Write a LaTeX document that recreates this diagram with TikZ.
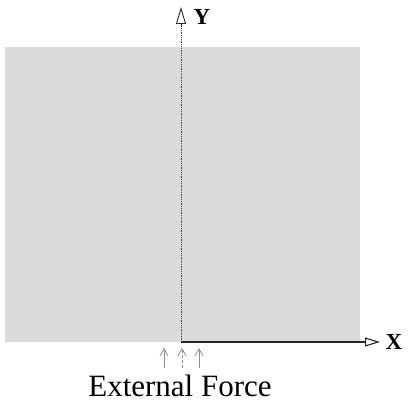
\documentclass[tikz,border=0pt]{standalone}
\usepackage{fontspec}
\setmainfont{Liberation Serif}
\usetikzlibrary{arrows.meta}
\begin{document}
\begin{tikzpicture}[x=1pt,y=-1pt,
  shade area/.style={fill=black!14,draw=none},
  axisline/.style={line width=1.1pt,black!85},
  yaxisline/.style={line width=0.8pt,black!75,densely dotted},
  forcearrow/.style={line width=0.8pt,black!45,-{Straight Barb[length=7pt,width=8pt]}},
  axislabel/.style={font=\fontsize{23}{25}\selectfont\bfseries,inner sep=0pt},
  captionlabel/.style={font=\fontsize{31}{33}\selectfont,inner sep=0pt}]
\useasboundingbox (0,0) rectangle (413,414);
\fill[shade area] (5,47) rectangle (360,342);
\coordinate (O) at (181,342);
\coordinate (ytip) at (181,7);
\coordinate (xtip) at (380,342);
\draw[yaxisline] (O) -- (181,24);
\draw[line width=0.9pt,black!85,-{Triangle[open,length=17pt,width=10pt]}] (181,26) -- (ytip);
\draw[axisline,-{Triangle[open,length=15pt,width=9pt]}] (O) -- (xtip);
\node[axislabel] (Y) at (202,17) {Y};
\node[axislabel] (X) at (394,342) {X};
\coordinate (f1a) at (164,368); \coordinate (f1b) at (164,348);
\coordinate (f2a) at (182,368); \coordinate (f2b) at (182,348);
\coordinate (f3a) at (199,368); \coordinate (f3b) at (199,348);
\draw[forcearrow] (f1a) -- (f1b);
\draw[forcearrow,densely dashed] (f2a) -- (f2b);
\draw[forcearrow] (f3a) -- (f3b);
\node[captionlabel] (cap) at (180,386) {External Force};
\end{tikzpicture}
\end{document}
